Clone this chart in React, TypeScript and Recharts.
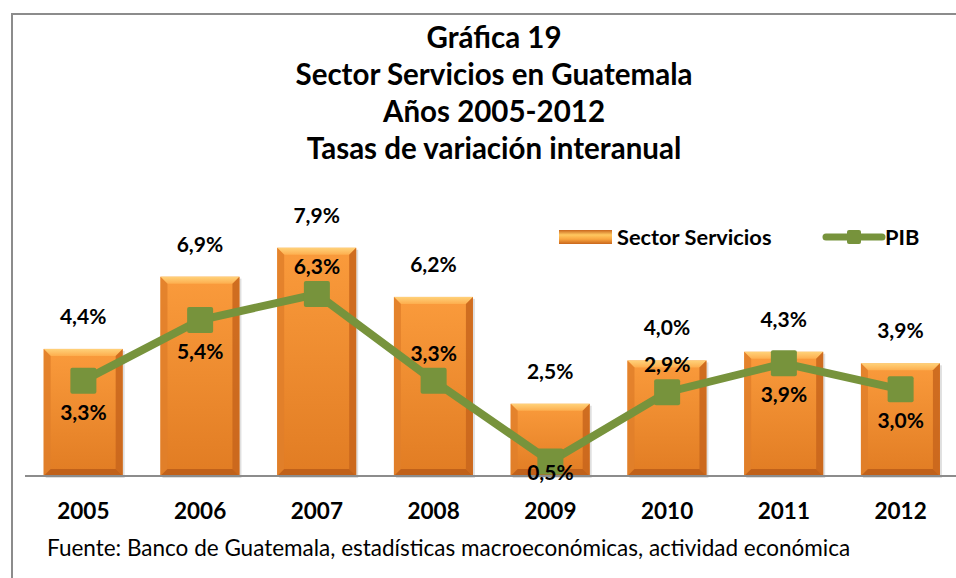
import React from 'react';
import { ComposedChart, Bar, Line, XAxis, YAxis, LabelList } from 'recharts';

const years = ['2005', '2006', '2007', '2008', '2009', '2010', '2011', '2012'];
const servicios = [4.4, 6.9, 7.9, 6.2, 2.5, 4.0, 4.3, 3.9];
const pib = [3.3, 5.4, 6.3, 3.3, 0.5, 2.9, 3.9, 3.0];
const pibLabelSide = ['below', 'below', 'above', 'above', 'center', 'above', 'below', 'below'];

const titleLines = ['Gráfica 19', 'Sector Servicios en Guatemala', 'Años 2005-2012', 'Tasas de variación interanual'];
const sourceText = 'Fuente: Banco de Guatemala, estadísticas macroeconómicas, actividad económica';
const legendBarName = 'Sector Servicios';
const legendLineName = 'PIB';

const data = years.map((y, i) => ({ year: y, servicios: servicios[i], pib: pib[i] }));

const FONT = 'Lato, "Open Sans", sans-serif';
const GREEN = '#77933C';
const fmt = (v: number) => `${v.toFixed(1).replace('.', ',')}%`;

const BevelBar = (props: any) => {
  const { x, y, width, height } = props;
  if (!height || height <= 0) return null;
  const b = Math.min(7, height / 3);
  return (
    <g>
      <rect x={x + 2} y={y + 2} width={width} height={height} fill="#bfbfbf" opacity={0.5} />
      <rect x={x} y={y} width={width} height={height} fill="url(#barBody)" />
      <polygon points={`${x},${y} ${x + width},${y} ${x + width - b},${y + b} ${x + b},${y + b}`} fill="url(#barTop)" />
      <polygon points={`${x},${y} ${x + b},${y + b} ${x + b},${y + height - b} ${x},${y + height}`} fill="#E07F2A" opacity={0.85} />
      <polygon points={`${x + width},${y} ${x + width},${y + height} ${x + width - b},${y + height - b} ${x + width - b},${y + b}`} fill="#C8651C" opacity={0.85} />
      <polygon points={`${x},${y + height} ${x + b},${y + height - b} ${x + width - b},${y + height - b} ${x + width},${y + height}`} fill="#B85A18" opacity={0.8} />
    </g>
  );
};

const SquareDot = (props: any) => {
  const { cx, cy } = props;
  if (cx == null || cy == null) return null;
  return <rect x={cx - 13} y={cy - 13} width={26} height={26} rx={2} fill={GREEN} />;
};

const BarLabel = (props: any) => {
  const { x, y, width, value } = props;
  return (
    <text x={x + width / 2} y={y - 25} textAnchor="middle" fontFamily={FONT} fontWeight={700} fontSize={21} fill="#000">
      {fmt(value)}
    </text>
  );
};

const PibLabel = (props: any) => {
  const { x, y, value, index } = props;
  const side = pibLabelSide[index];
  const dy = side === 'above' ? -20 : side === 'center' ? 18 : 39;
  return (
    <text x={x} y={y + dy} textAnchor="middle" fontFamily={FONT} fontWeight={700} fontSize={21} fill="#000">
      {fmt(value)}
    </text>
  );
};

const YearTick = (props: any) => {
  const { x, y, payload } = props;
  return (
    <text x={x} y={y + 43} textAnchor="middle" fontFamily={FONT} fontWeight={700} fontSize={22.5} fill="#000">
      {payload.value}
    </text>
  );
};

const LegendBox = () => (
  <div style={{ position: 'absolute', left: 559, top: 222, width: 400, height: 30, fontFamily: FONT, fontWeight: 700, fontSize: 21.8, color: '#000' }}>
    <svg width={400} height={30} style={{ position: 'absolute', left: 0, top: 0 }}>
      <defs>
        <linearGradient id="legBar" x1="0" y1="0" x2="0" y2="1">
          <stop offset="0%" stopColor="#C9661C" />
          <stop offset="35%" stopColor="#FFC860" />
          <stop offset="65%" stopColor="#F9A640" />
          <stop offset="100%" stopColor="#C9661C" />
        </linearGradient>
      </defs>
      <rect x={0} y={8} width={53} height={14} fill="url(#legBar)" />
      <line x1={267} y1={15} x2={323} y2={15} stroke={GREEN} strokeWidth={7} strokeLinecap="round" />
      <rect x={288} y={8} width={14} height={14} rx={2} fill={GREEN} />
    </svg>
    <span style={{ position: 'absolute', left: 58, top: 1, whiteSpace: 'nowrap' }}>{legendBarName}</span>
    <span style={{ position: 'absolute', left: 326, top: 1, whiteSpace: 'nowrap' }}>{legendLineName}</span>
  </div>
);

export default function App() {
  return (
    <div style={{ position: 'fixed', left: 0, top: 0, width: 956, height: 578, overflow: 'hidden', background: '#fff' }}>
      <div style={{ position: 'absolute', left: 11, top: 13, width: 1000, height: 600, borderLeft: '2px solid #8c8c8c', borderTop: '2px solid #8c8c8c' }} />
      <div style={{ position: 'absolute', left: 244, top: 18, width: 500, textAlign: 'center', fontFamily: FONT, fontWeight: 700, fontSize: 29.5, lineHeight: '37px', color: '#000' }}>
        {titleLines.map((t) => (
          <div key={t} style={{ whiteSpace: 'nowrap' }}>{t}</div>
        ))}
      </div>
      <div style={{ position: 'absolute', left: 47, top: 534, fontFamily: FONT, fontSize: 22.5, color: '#000', whiteSpace: 'nowrap' }}>
        {sourceText}
      </div>
      <div style={{ position: 'absolute', left: 0, top: 0 }}>
        <ComposedChart width={959} height={578} data={data} margin={{ top: 216, right: 0, bottom: 72, left: 25 }} barCategoryGap="16%">
          <defs>
            <linearGradient id="barBody" x1="0" y1="0" x2="0" y2="1">
              <stop offset="0%" stopColor="#FA9B3C" />
              <stop offset="100%" stopColor="#E17C23" />
            </linearGradient>
            <linearGradient id="barTop" x1="0" y1="0" x2="0" y2="1">
              <stop offset="0%" stopColor="#FFD27A" />
              <stop offset="100%" stopColor="#FDAE4E" />
            </linearGradient>
          </defs>
          <XAxis dataKey="year" height={30} axisLine={{ stroke: '#8c8c8c', strokeWidth: 2 }} tickLine={false} tickSize={0} tickMargin={0} tick={<YearTick />} interval={0} />
          <YAxis domain={[0, 9]} width={0} tick={false} tickLine={false} axisLine={{ stroke: '#8c8c8c', strokeWidth: 2 }} />
          <Bar dataKey="servicios" name="Sector Servicios" shape={<BevelBar />} isAnimationActive={false}>
            <LabelList dataKey="servicios" content={<BarLabel />} />
          </Bar>
          <Line dataKey="pib" name="PIB" stroke={GREEN} strokeWidth={8} dot={<SquareDot />} activeDot={false} isAnimationActive={false}>
            <LabelList dataKey="pib" content={<PibLabel />} />
          </Line>
        </ComposedChart>
      </div>
      <LegendBox />
    </div>
  );
}
